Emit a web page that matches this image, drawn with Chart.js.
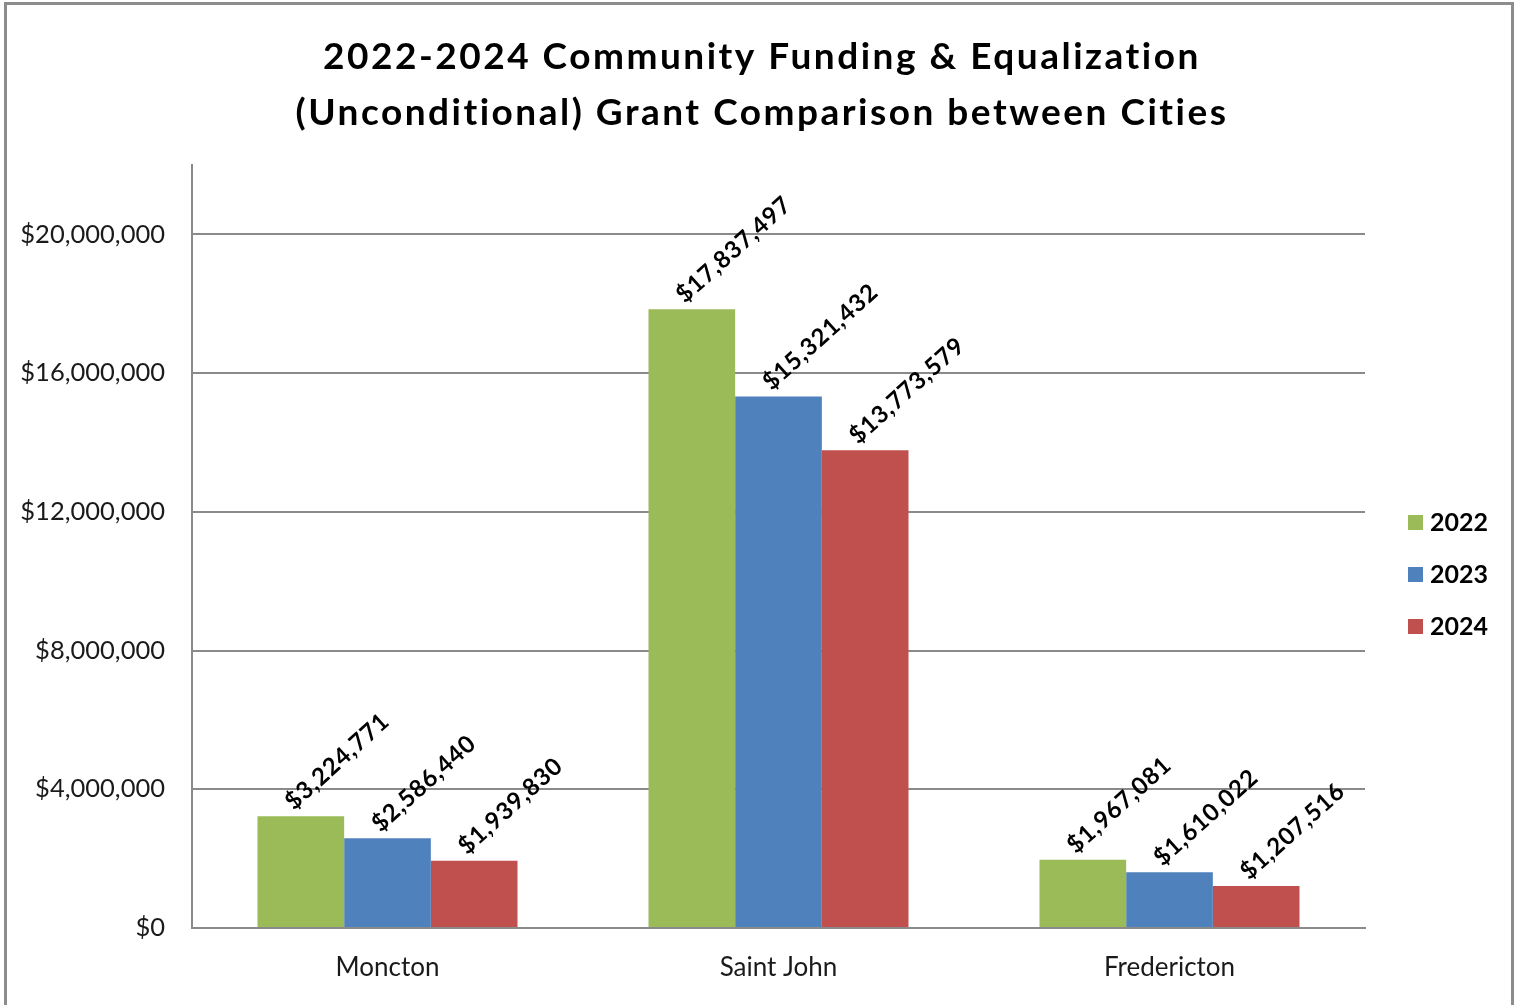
<!DOCTYPE html>
<html>
<head>
<meta charset="utf-8">
<script src="https://cdn.jsdelivr.net/npm/chart.js@4/dist/chart.umd.min.js"></script>
<style>
  html, body { margin: 0; padding: 0; background: #fff; overflow: hidden; }
  #wrap { position: absolute; left: 0; top: 0; width: 1524px; height: 1005px; }
  #frame { position: absolute; left: 4px; top: 2px; width: 1510px; height: 1020px;
           border: 3px solid #8c8c8c; box-sizing: border-box; }
</style>
</head>
<body>
<div id="wrap">
  <canvas id="grantChart" width="1524" height="1005"></canvas>
  <div id="frame"></div>
</div>
<script>
// Données du graphique
const cities = ['Moncton', 'Saint John', 'Fredericton'];
const years = ['2022', '2023', '2024'];
const grants2022 = [3224771, 17837497, 1967081];
const grants2023 = [2586440, 15321432, 1610022];
const grants2024 = [1939830, 13773579, 1207516];
const yTicks = [0, 4000000, 8000000, 12000000, 16000000, 20000000];
const titleLines = ['2022-2024 Community Funding & Equalization', '(Unconditional) Grant Comparison between Cities'];

const colors = ['#9BBB59', '#4F81BD', '#C0504D'];
const FONT = 'Lato, "Open Sans", sans-serif';

function money(v) {
  return '$' + v.toLocaleString('en-US');
}

// Titre sur deux lignes, centré sur toute la largeur
const titleBlock = {
  id: 'titleBlock',
  afterDraw(chart) {
    const ctx = chart.ctx;
    ctx.save();
    ctx.font = 'bold 37px ' + FONT;
    ctx.letterSpacing = '2.5px';
    ctx.fillStyle = '#000';
    ctx.textAlign = 'center';
    ctx.textBaseline = 'alphabetic';
    titleLines.forEach((line, i) => {
      ctx.fillText(line, chart.width / 2, 69 + i * 56);
    });
    ctx.restore();
  }
};

// Étiquettes de valeurs inclinées au-dessus des barres
const valueLabels = {
  id: 'valueLabels',
  afterDatasetsDraw(chart) {
    const ctx = chart.ctx;
    ctx.save();
    ctx.font = 'bold 24px ' + FONT;
    ctx.letterSpacing = '0.8px';
    ctx.fillStyle = '#000';
    ctx.textAlign = 'left';
    ctx.textBaseline = 'middle';
    chart.data.datasets.forEach((ds, i) => {
      chart.getDatasetMeta(i).data.forEach((bar, j) => {
        ctx.save();
        ctx.translate(bar.x - 12, bar.y - 11);
        ctx.rotate(-42 * Math.PI / 180);
        ctx.fillText(money(ds.data[j]), 0, 0);
        ctx.restore();
      });
    });
    ctx.restore();
  }
};

// Légende dessinée à droite
const sideLegend = {
  id: 'sideLegend',
  afterDraw(chart) {
    const ctx = chart.ctx;
    ctx.save();
    ctx.font = 'bold 25px ' + FONT;
    ctx.textBaseline = 'middle';
    ctx.textAlign = 'left';
    chart.data.datasets.forEach((ds, i) => {
      const y = 522 + i * 52;
      ctx.fillStyle = ds.backgroundColor;
      ctx.fillRect(1408, y - 7, 15, 15);
      ctx.fillStyle = '#000';
      ctx.fillText(ds.label, 1430, y + 1);
    });
    ctx.restore();
  }
};

const ctx = document.getElementById('grantChart').getContext('2d');
const grantChart = new Chart(ctx, {
  type: 'bar',
  data: {
    labels: cities,
    datasets: [
      { label: years[0], data: grants2022, backgroundColor: colors[0] },
      { label: years[1], data: grants2023, backgroundColor: colors[1] },
      { label: years[2], data: grants2024, backgroundColor: colors[2] }
    ]
  },
  options: {
    responsive: false,
    animation: false,
    devicePixelRatio: 1,
    layout: { padding: { left: 0, right: 159, top: 165, bottom: 0 } },
    datasets: { bar: { categoryPercentage: 0.665, barPercentage: 1.0 } },
    plugins: {
      legend: { display: false },
      tooltip: { enabled: false },
      title: { display: false }
    },
    scales: {
      x: {
        grid: { display: false },
        border: { display: true, color: '#8a8a8a', width: 2 },
        ticks: { color: '#1a1a1a', font: { family: FONT, size: 26 }, padding: 16 },
        afterFit(scale) { scale.height = 77; }
      },
      y: {
        min: 0,
        max: 22000000,
        grid: { color: '#8a8a8a', lineWidth: 2, drawTicks: false },
        border: { display: true, color: '#8a8a8a', width: 2 },
        ticks: {
          stepSize: 4000000,
          color: '#1a1a1a',
          font: { family: FONT, size: 25.5 },
          padding: 27,
          callback: (v) => money(v)
        },
        afterBuildTicks(scale) {
          scale.ticks = yTicks.map(v => ({ value: v }));
        },
        afterFit(scale) { scale.width = 192; }
      }
    }
  },
  plugins: [titleBlock, valueLabels, sideLegend]
});
</script>
</body>
</html>
